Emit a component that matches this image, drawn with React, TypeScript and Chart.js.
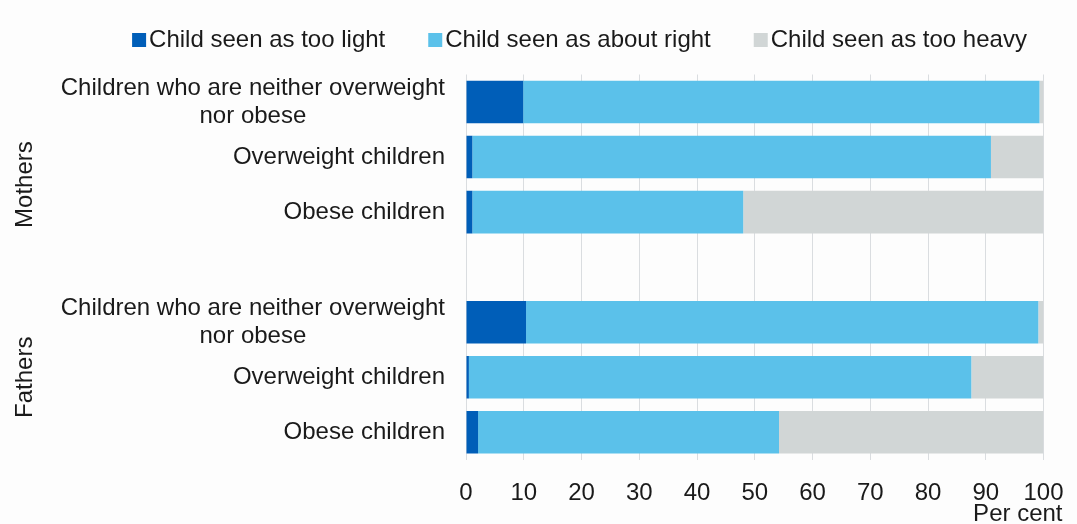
import React, { useEffect, useRef } from 'react';
import { Chart, registerables } from 'chart.js';

Chart.register(...registerables);

const categories: string[][] = [
  ['Children who are neither overweight', 'nor obese'],
  ['Overweight children'],
  ['Obese children'],
  [''],
  ['Children who are neither overweight', 'nor obese'],
  ['Overweight children'],
  ['Obese children'],
];

const seriesNames = ['Child seen as too light', 'Child seen as about right', 'Child seen as too heavy'];
const seriesColors = ['#005eb8', '#5bc1ea', '#d1d6d6'];

const tooLight = [9.9, 1.1, 1.1, null, 10.4, 0.5, 2.1];
const aboutRight = [89.4, 89.8, 46.9, null, 88.7, 87.0, 52.1];
const tooHeavy = [0.7, 9.1, 52.0, null, 0.9, 12.5, 45.8];

const xTicks = [0, 10, 20, 30, 40, 50, 60, 70, 80, 90, 100];
const xTitle = 'Per cent';

const groupLabels = ['Mothers', 'Fathers'];
const groupAnchors = [1.5, 5];

const FONT = '"Liberation Sans", Arial, Helvetica, sans-serif';
const FONT_SIZE = 24;
const TEXT = '#1a1a1a';

const overlayPlugin = {
  id: 'overlay',
  afterDraw(chart: any) {
    const ctx = chart.ctx as CanvasRenderingContext2D;
    const y = chart.scales.y;
    const x = chart.scales.x;
    const area = chart.chartArea;
    ctx.save();
    ctx.fillStyle = TEXT;
    ctx.font = `${FONT_SIZE}px ${FONT}`;

    // category labels
    const rightX = area.left - 21;
    const lineH = 28;
    categories.forEach((lines, i) => {
      const cy = y.getPixelForValue(i);
      const widths = lines.map((l) => ctx.measureText(l).width);
      const widest = Math.max(...widths);
      const cx = rightX - widest / 2;
      ctx.textAlign = 'center';
      ctx.textBaseline = 'middle';
      const startY = cy - ((lines.length - 1) * lineH) / 2;
      lines.forEach((l, k) => ctx.fillText(l, cx, startY + k * lineH));
    });

    // group labels
    groupLabels.forEach((g, i) => {
      const gy = y.getPixelForValue(groupAnchors[i]);
      ctx.save();
      ctx.translate(25, gy);
      ctx.rotate(-Math.PI / 2);
      ctx.textAlign = 'center';
      ctx.textBaseline = 'middle';
      ctx.fillText(g, 0, 0);
      ctx.restore();
    });

    // axis title
    ctx.textAlign = 'right';
    ctx.textBaseline = 'middle';
    ctx.fillText(xTitle, x.getPixelForValue(100) + 19, 514);

    // legend
    const box = 14;
    const gapBoxText = 3;
    const gapItems = 43;
    const widths = chart.data.datasets.map((d: any) => ctx.measureText(d.label).width);
    const total = widths.reduce((a: number, b: number) => a + b, 0) + chart.data.datasets.length * (box + gapBoxText) + gapItems * (chart.data.datasets.length - 1);
    let lx = 579.5 - total / 2;
    const ly = 40;
    chart.data.datasets.forEach((d: any, i: number) => {
      ctx.fillStyle = d.backgroundColor;
      ctx.fillRect(lx, ly - box / 2, box, box);
      lx += box + gapBoxText;
      ctx.fillStyle = TEXT;
      ctx.textAlign = 'left';
      ctx.textBaseline = 'middle';
      ctx.fillText(d.label, lx, ly);
      lx += widths[i] + gapItems;
    });
    ctx.restore();
  },
};

export default function App() {
  const ref = useRef<HTMLCanvasElement | null>(null);
  useEffect(() => {
    if (!ref.current) return;
    const seriesData = [tooLight, aboutRight, tooHeavy];
    const chart = new Chart(ref.current, {
      type: 'bar',
      data: {
        labels: categories,
        datasets: seriesNames.map((name, i) => ({
          label: name,
          data: seriesData[i] as any,
          backgroundColor: seriesColors[i],
          borderWidth: 0,
          barPercentage: 0.773,
          categoryPercentage: 1,
        })),
      },
      options: {
        indexAxis: 'y',
        responsive: false,
        maintainAspectRatio: false,
        animation: false,
        layout: { padding: { left: 466, right: 33.5, top: 74.5, bottom: 0 } },
        plugins: {
          legend: { display: false },
          tooltip: { enabled: false },
        },
        scales: {
          x: {
            stacked: true,
            min: 0,
            max: 100,
            afterBuildTicks: (s: any) => {
              s.ticks = xTicks.map((v) => ({ value: v }));
            },
            ticks: {
              font: { family: FONT, size: FONT_SIZE },
              color: TEXT,
              padding: 19,
              maxRotation: 0,
              autoSkip: false,
            },
            grid: { color: '#dadde0', lineWidth: 1, drawTicks: false },
            border: { display: false },
            afterFit: (s: any) => {
              s.height = 64.2;
              s.paddingLeft = 0;
              s.paddingRight = 0;
            },
          },
          y: {
            stacked: true,
            display: false,
          },
        },
      },
      plugins: [overlayPlugin],
    });
    return () => chart.destroy();
  }, []);
  return (
    <div style={{ position: 'absolute', left: 0, top: 0, width: 1077, height: 524, background: '#fdfdfd' }}>
      <canvas ref={ref} width={1077} height={524} style={{ display: 'block' }} />
    </div>
  );
}
